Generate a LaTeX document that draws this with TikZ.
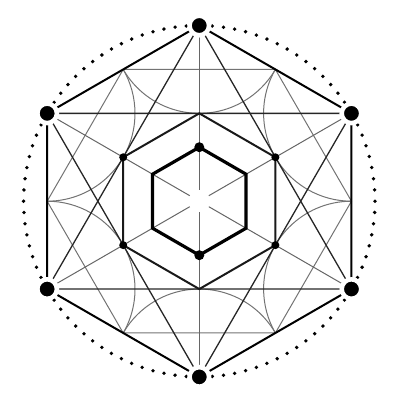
\documentclass[tikz,border=0pt]{standalone}
\begin{document}
\begin{tikzpicture}[x=1pt,y=1pt,
  outer/.style={line width=2pt,black},
  star/.style={line width=1.3pt,black!85},
  fine/.style={line width=1pt,black!55},
  spoke/.style={line width=1pt,black!60},
  midhex/.style={line width=2pt,black!90},
  innerhex/.style={line width=3.2pt,black},
  bigdot/.style={circle,fill=black,draw=white,line width=4.5pt,inner sep=0pt,minimum size=19.5pt},
  meddot/.style={circle,fill=black,inner sep=0pt,minimum size=10pt},
  smalldot/.style={circle,fill=black,inner sep=0pt,minimum size=8pt},
  rimdot/.style={circle,fill=black,inner sep=0pt,minimum size=3.8pt}]
\useasboundingbox (-199.3,-198.8) rectangle (200.7,201.2);
\def\R{175.7}
\foreach \k in {0,...,5}{
  \coordinate (V\k) at ({90-60*\k}:\R);
  \coordinate (M\k) at ({60-60*\k}:{\R*cos(30)});
  \coordinate (H\k) at ({90-60*\k}:{\R/2});
  \coordinate (I\k) at ({90-60*\k}:54);
  \coordinate (S\k) at ({90-60*\k}:11);
}
% dotted circle
\foreach \k in {0,...,5}{
  \foreach \j in {0,...,14}{
    \node[rimdot] (R\k-\j) at ({90-60*\k-4.24-3.68*\j}:\R) {};
  }
}
% arcs centred at the outer vertices
\foreach \k in {0,...,5}{
  \draw[fine] (V\k) ++({210-60*\k}:{\R/2}) arc[start angle={210-60*\k}, end angle={330-60*\k}, radius={\R/2}];
}
% hexagon through edge midpoints
\draw[fine] (M0)--(M1)--(M2)--(M3)--(M4)--(M5)--cycle;
% radial spokes
\foreach \k in {0,...,5}{\draw[spoke] (V\k)--(S\k);}
% hexagram
\draw[star] (V0)--(V2)--(V4)--cycle;
\draw[star] (V1)--(V3)--(V5)--cycle;
% middle hexagon
\draw[midhex] (H0)--(H1)--(H2)--(H3)--(H4)--(H5)--cycle;
% inner hexagon
\draw[innerhex,line join=miter] (I0)--(I1)--(I2)--(I3)--(I4)--(I5)--cycle;
% outer hexagon
\draw[outer] (V0)--(V1)--(V2)--(V3)--(V4)--(V5)--cycle;
% dots
\foreach \k in {0,...,5}{\node[bigdot] (D\k) at (V\k) {};}
\foreach \k in {1,2,4,5}{\node[smalldot] (h\k) at (H\k) {};}
\node[meddot] (i0) at (I0) {};
\node[meddot] (i3) at (I3) {};
\end{tikzpicture}
\end{document}
